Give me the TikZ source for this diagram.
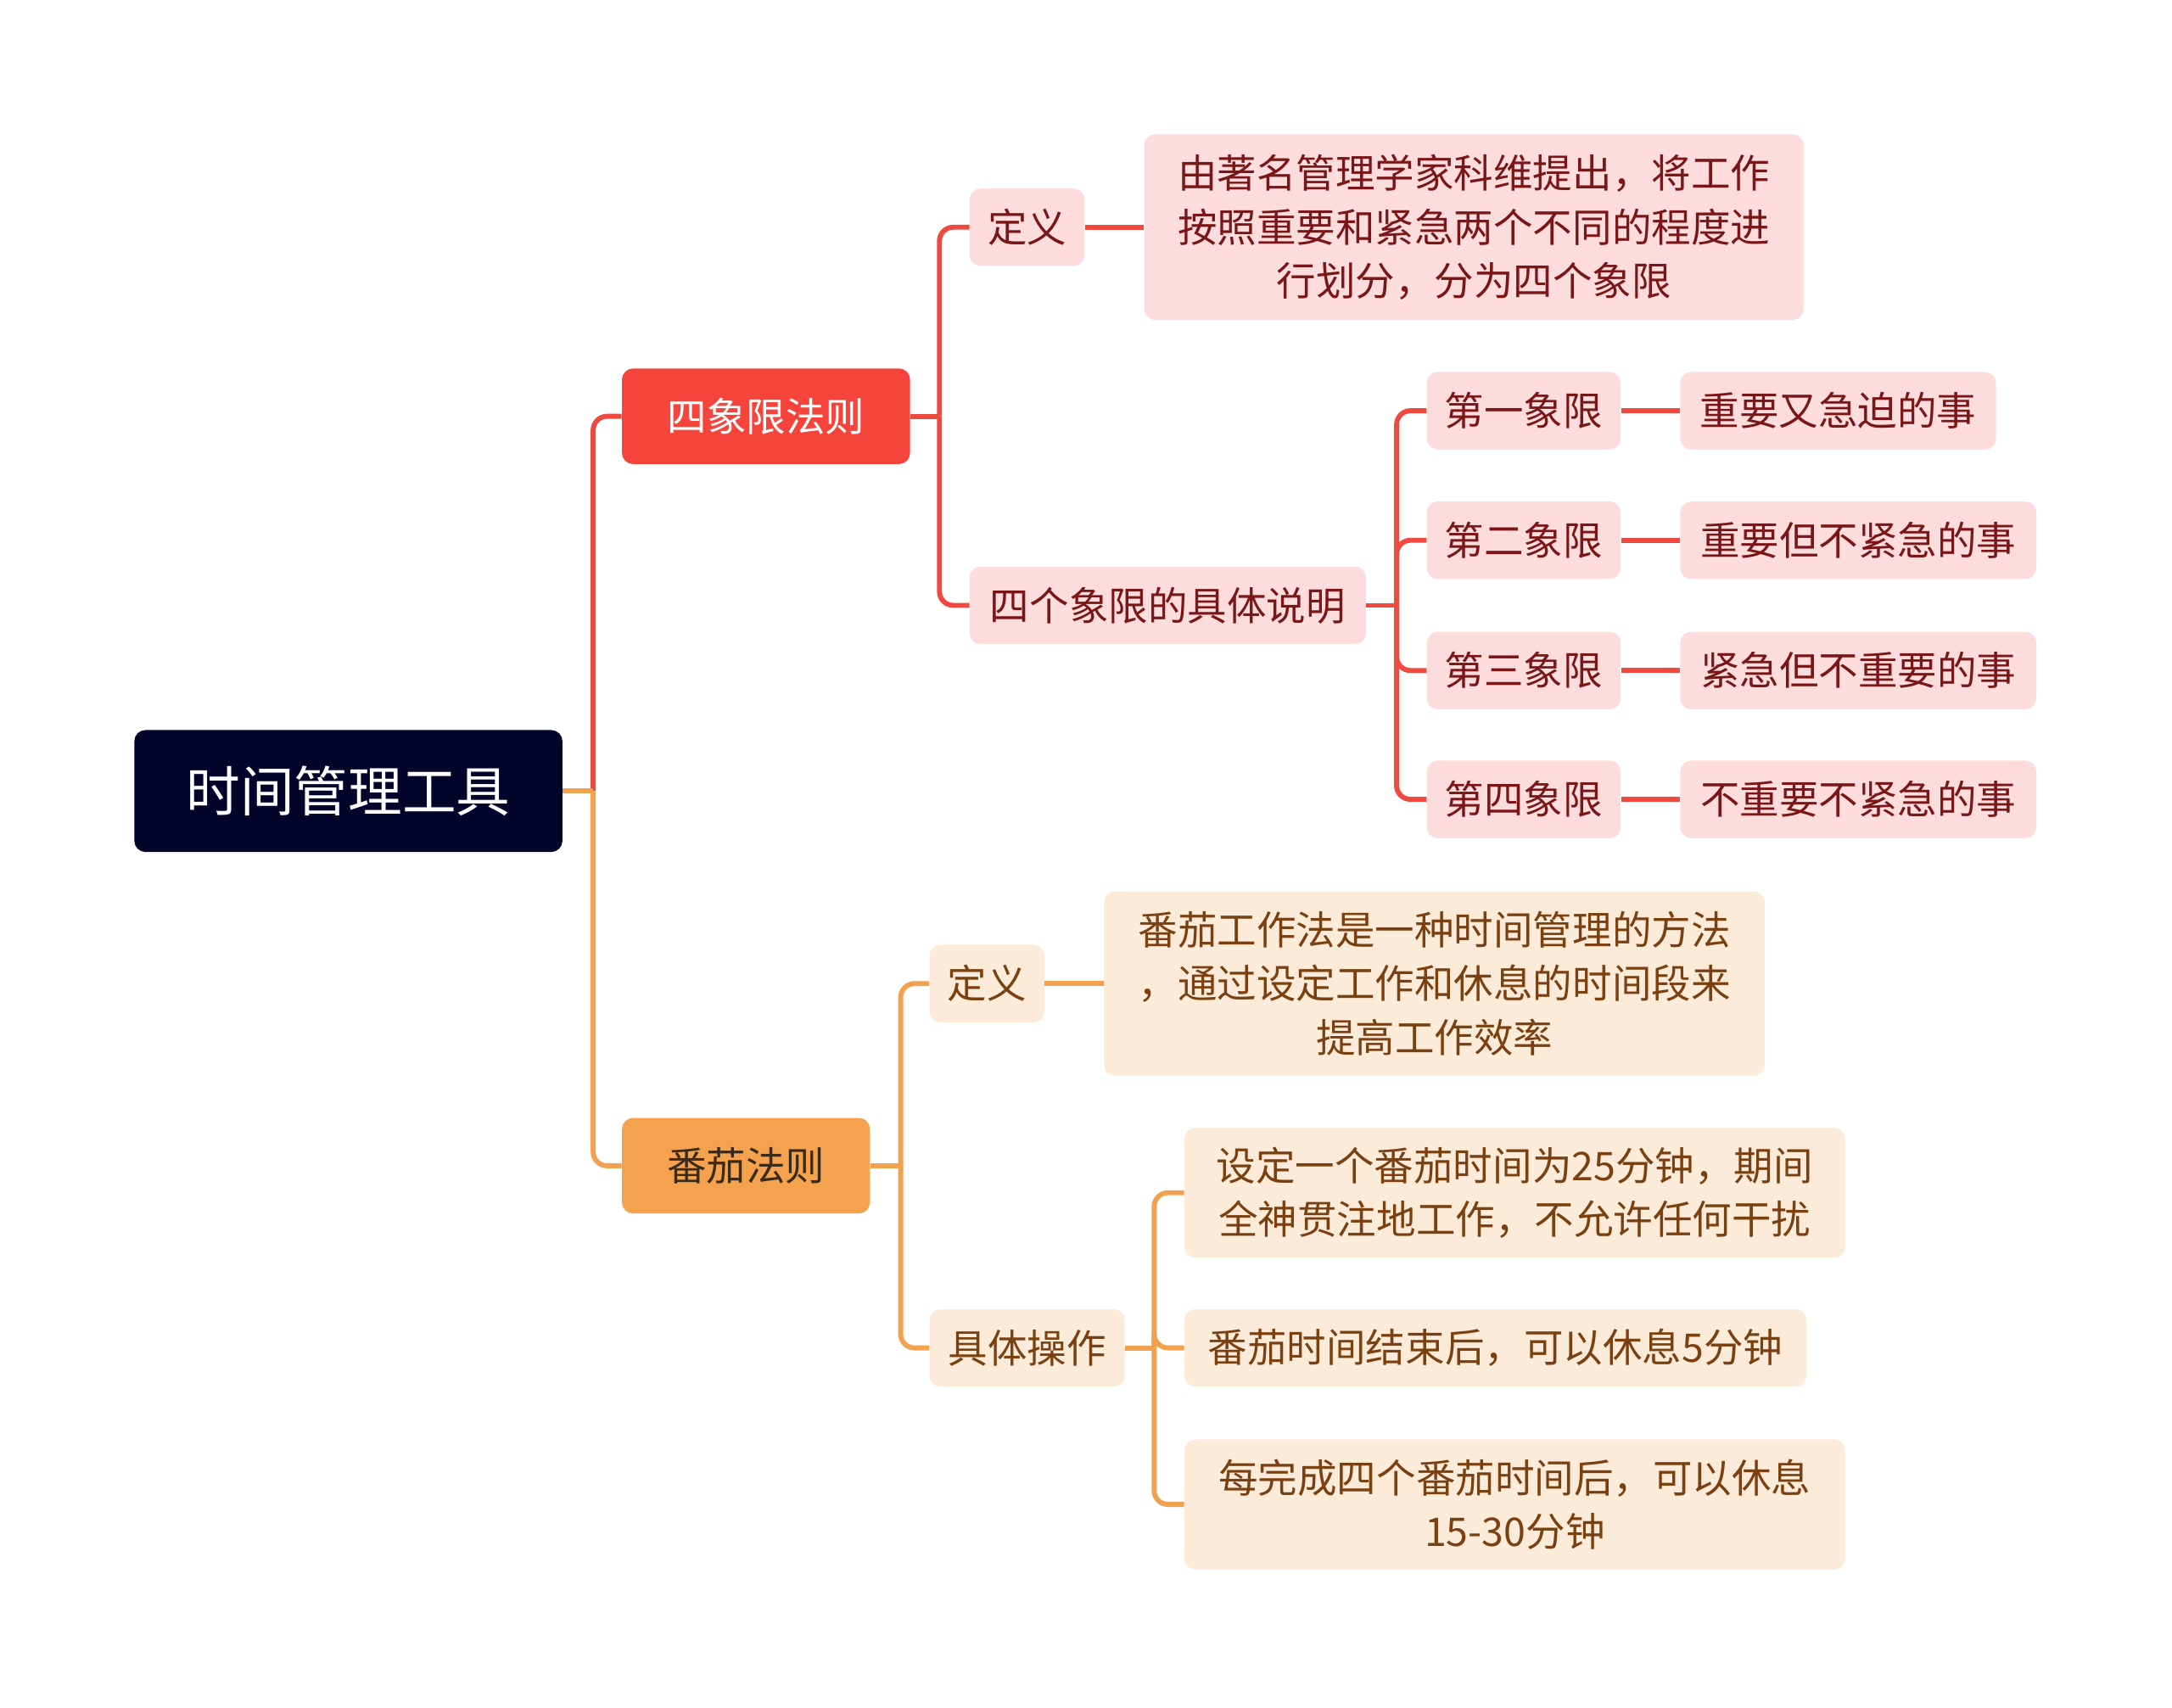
\documentclass[tikz,border=0pt]{standalone}
\usepackage{fontspec}
\newfontfamily\cjk{Noto Sans CJK SC}
\definecolor{rootfill}{HTML}{02042A}
\definecolor{redmain}{HTML}{F5443B}
\definecolor{orgmain}{HTML}{F5A24F}
\definecolor{pinkfill}{HTML}{FCDCDC}
\definecolor{peachfill}{HTML}{FDEBDA}
\definecolor{redtext}{HTML}{7B1618}
\definecolor{browntext}{HTML}{7A4010}
\definecolor{darktext}{HTML}{3A2A1A}
\definecolor{redline}{HTML}{F04A40}
\definecolor{orgline}{HTML}{F2A24F}
\tikzset{
  box/.style={rounded corners=8pt, inner sep=0pt, align=center, font=\cjk\fontsize{28.5}{39}\selectfont},
  rootbox/.style={box, fill=rootfill, text=white, font=\cjk\fontsize{39}{46}\selectfont},
  redbox/.style={box, fill=redmain, text=white},
  orgbox/.style={box, fill=orgmain, text=darktext},
  pinkbox/.style={box, fill=pinkfill, text=redtext},
  peachbox/.style={box, fill=peachfill, text=browntext},
  rl/.style={draw=redline, line width=3.6pt, rounded corners=10pt},
  ol/.style={draw=orgline, line width=3.6pt, rounded corners=10pt},
}
\begin{document}
\begin{tikzpicture}[x=1pt,y=-1pt]
\useasboundingbox (0,0) rectangle (1568,1232.4);
% nodes
\node[rootbox, minimum width=309, minimum height=88] (root) at (251.5,571) {时间管理工具};
\node[redbox, minimum width=208, minimum height=69] (sx) at (553,300.5) {四象限法则};
\node[orgbox, minimum width=179, minimum height=69] (fq) at (538.5,841.5) {番茄法则};
% red branch
\node[pinkbox, minimum width=83, minimum height=56] (d1) at (741.5,164) {定义};
\node[pinkbox, minimum width=476, minimum height=134] (d1t) at (1064,164) {由著名管理学家科维提出，将工作\\按照重要和紧急两个不同的程度进\\行划分，分为四个象限};
\node[pinkbox, minimum width=286, minimum height=56] (sm) at (843,437) {四个象限的具体说明};
\node[pinkbox, minimum width=140, minimum height=56] (q1) at (1100,296.5) {第一象限};
\node[pinkbox, minimum width=140, minimum height=56] (q2) at (1100,390) {第二象限};
\node[pinkbox, minimum width=140, minimum height=56] (q3) at (1100,484) {第三象限};
\node[pinkbox, minimum width=140, minimum height=56] (q4) at (1100,577) {第四象限};
\node[pinkbox, minimum width=228, minimum height=56] (r1) at (1327,296.5) {重要又急迫的事};
\node[pinkbox, minimum width=257, minimum height=56] (r2) at (1341.5,390) {重要但不紧急的事};
\node[pinkbox, minimum width=257, minimum height=56] (r3) at (1341.5,484) {紧急但不重要的事};
\node[pinkbox, minimum width=257, minimum height=56] (r4) at (1341.5,577) {不重要不紧急的事};
% orange branch
\node[peachbox, minimum width=83, minimum height=56] (d2) at (712.5,710) {定义};
\node[peachbox, minimum width=477, minimum height=133] (d2t) at (1035.5,710) {番茄工作法是一种时间管理的方法\\，通过设定工作和休息的时间段来\\提高工作效率};
\node[peachbox, minimum width=141, minimum height=56] (op) at (741.5,973) {具体操作};
\node[peachbox, minimum width=477, minimum height=94] (o1) at (1093.5,861) {设定一个番茄时间为25分钟，期间\\全神贯注地工作，不允许任何干扰};
\node[peachbox, minimum width=449, minimum height=56] (o2) at (1079.5,973) {番茄时间结束后，可以休息5分钟};
\node[peachbox, minimum width=477, minimum height=94] (o3) at (1093.5,1086) {每完成四个番茄时间后，可以休息\\15-30分钟};
% junction coordinates
\coordinate (rj) at ([xshift=22pt]root.east);
\coordinate (sxj) at ([xshift=21pt]sx.east);
\coordinate (smj) at ([xshift=22pt]sm.east);
\coordinate (fqj) at ([xshift=22pt]fq.east);
\coordinate (opj) at ([xshift=21pt]op.east);
% connectors
\draw[rl] (rj) |- (sx.west);
\draw[ol] (rj) |- (fq.west);
\draw[ol, rounded corners=0pt] (root.east) -- (rj);
\draw[rl, rounded corners=0pt] (sx.east) -- (sxj);
\draw[rl] (sxj) |- (d1.west);
\draw[rl] (sxj) |- (sm.west);
\draw[rl] (d1.east) -- (d1t.west);
\draw[rl, rounded corners=0pt] (sm.east) -- (smj);
\draw[rl] (smj) |- (q1.west);
\draw[rl] (smj) |- (q2.west);
\draw[rl] (smj) |- (q3.west);
\draw[rl] (smj) |- (q4.west);
\draw[rl] (q1.east) -- (r1.west);
\draw[rl] (q2.east) -- (r2.west);
\draw[rl] (q3.east) -- (r3.west);
\draw[rl] (q4.east) -- (r4.west);
\draw[ol, rounded corners=0pt] (fq.east) -- (fqj);
\draw[ol] (fqj) |- (d2.west);
\draw[ol] (fqj) |- (op.west);
\draw[ol] (d2.east) -- (d2t.west);
\draw[ol, rounded corners=0pt] (op.east) -- (opj);
\draw[ol] (opj) |- (o1.west);
\draw[ol] (opj) |- (o2.west);
\draw[ol] (opj) |- (o3.west);
\end{tikzpicture}
\end{document}
